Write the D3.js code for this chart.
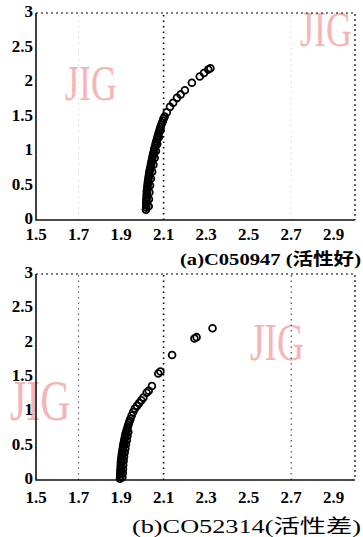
<!DOCTYPE html>
<html>
<head>
<meta charset="utf-8">
<script src="https://cdn.jsdelivr.net/npm/d3@7"></script>
<style>
  body { margin: 0; background: #fff; }
  svg { display: block; }
</style>
</head>
<body>
<script>
// tick values shared by both panels
var xTicks = [1.5, 1.7, 1.9, 2.1, 2.3, 2.5, 2.7, 2.9];
var yTicks = [0, 0.5, 1, 1.5, 2, 2.5, 3];

// (a) C050947 - good activity
var pointsA = [
  [2.017,0.15],[2.018,0.18],[2.019,0.21],[2.018,0.24],[2.02,0.27],[2.019,0.3],[2.021,0.33],
  [2.02,0.36],[2.022,0.39],[2.021,0.42],[2.023,0.45],[2.024,0.48],[2.025,0.51],[2.026,0.54],
  [2.027,0.57],[2.029,0.6],[2.03,0.63],[2.032,0.66],[2.033,0.69],[2.035,0.72],[2.037,0.75],
  [2.039,0.78],[2.041,0.81],[2.043,0.84],[2.045,0.87],[2.047,0.9],[2.049,0.93],[2.051,0.96],
  [2.054,0.99],[2.056,1.02],[2.058,1.05],[2.061,1.08],[2.063,1.11],[2.066,1.14],[2.069,1.17],
  [2.071,1.2],[2.074,1.23],[2.077,1.26],[2.08,1.29],[2.083,1.32],[2.086,1.35],[2.089,1.38],
  [2.093,1.41],[2.097,1.44],[2.1,1.47],
  [2.03,0.2],[2.031,0.3],[2.033,0.4],[2.036,0.5],[2.04,0.6],[2.046,0.7],[2.052,0.8],
  [2.058,0.9],[2.064,1.0],[2.07,1.1],[2.078,1.2],[2.086,1.3],
  [2.105,1.5],[2.115,1.56],[2.13,1.64],[2.145,1.7],[2.163,1.77],[2.18,1.82],[2.2,1.88],
  [2.233,1.99],[2.27,2.08],[2.29,2.13],[2.31,2.18],[2.32,2.2]
];

// (b) CO52314 - poor activity
var pointsB = [
  [1.895,0.02],[1.897,0.05],[1.896,0.08],[1.898,0.11],[1.897,0.14],[1.899,0.17],[1.898,0.2],
  [1.9,0.23],[1.899,0.26],[1.901,0.29],[1.902,0.32],[1.903,0.35],[1.904,0.38],[1.906,0.41],
  [1.907,0.44],[1.909,0.47],[1.91,0.5],[1.912,0.53],[1.914,0.56],[1.916,0.59],[1.918,0.62],
  [1.92,0.65],[1.922,0.68],[1.925,0.71],[1.928,0.74],[1.931,0.77],[1.934,0.8],[1.937,0.83],
  [1.94,0.86],[1.944,0.89],
  [1.906,0.04],[1.908,0.1],[1.909,0.16],[1.91,0.22],[1.912,0.28],[1.914,0.34],[1.917,0.4],
  [1.92,0.46],[1.923,0.52],[1.927,0.58],[1.93,0.64],[1.934,0.7],
  [1.95,0.94],[1.957,0.99],[1.965,1.04],[1.975,1.08],[1.985,1.12],[1.995,1.16],[2.005,1.2],
  [2.02,1.27],[2.03,1.3],[2.045,1.37],[2.075,1.55],[2.085,1.58],[2.14,1.82],[2.245,2.06],
  [2.255,2.08],[2.33,2.21]
];

var svg = d3.select("body").append("svg")
  .attr("width", 363)
  .attr("height", 537);

var x = d3.scaleLinear().domain([1.5, 3.0]).range([36, 355]);

function panel(data, opt) {
  var y = d3.scaleLinear().domain([0, 3]).range(opt.yRange);
  var g = svg.append("g");

  // watermarks
  opt.marks.forEach(function (m) {
    g.append("text")
      .attr("transform", "translate(" + m[0] + "," + m[1] + ") scale(0.72,1)")
      .attr("font-family", "Liberation Serif")
      .attr("font-size", m[2])
      .attr("fill", "#f6b4b4")
      .text("JIG");
  });

  // dotted verticals
  opt.grid.forEach(function (gl) {
    g.append("line")
      .attr("x1", x(gl[0])).attr("x2", x(gl[0]))
      .attr("y1", y(0)).attr("y2", y(3))
      .attr("stroke", "#000")
      .attr("stroke-width", gl[1])
      .attr("stroke-dasharray", "1.5,4")
      .attr("opacity", gl[2]);
  });

  // frame: top/right dotted, left/bottom solid
  g.append("path")
    .attr("d", "M" + x(1.5) + "," + y(3) + "H" + x(3) + "V" + y(0))
    .attr("fill", "none").attr("stroke", "#000")
    .attr("stroke-width", 1.2).attr("stroke-dasharray", "2,3");
  g.append("path")
    .attr("d", "M" + x(1.5) + "," + y(3) + "V" + y(0) + "H" + x(3))
    .attr("fill", "none").attr("stroke", "#111")
    .attr("stroke-width", 1.6);

  // tick labels
  g.selectAll(".xt").data(xTicks).enter().append("text")
    .attr("x", function (d) { return x(d); })
    .attr("y", opt.xLabelY)
    .attr("text-anchor", "middle")
    .attr("font-family", "Liberation Serif")
    .attr("font-weight", "bold")
    .attr("font-size", 17)
    .text(function (d) { return d3.format(".1f")(d); });

  g.selectAll(".yt").data(yTicks).enter().append("text")
    .attr("x", 33)
    .attr("y", function (d) { return y(d) + 4; })
    .attr("text-anchor", "end")
    .attr("font-family", "Liberation Serif")
    .attr("font-weight", "bold")
    .attr("font-size", 17)
    .text(function (d) { return d; });

  // points
  g.selectAll(".pt").data(data).enter().append("circle")
    .attr("cx", function (d) { return x(d[0]); })
    .attr("cy", function (d) { return y(d[1]); })
    .attr("r", 3.4)
    .attr("fill", "none")
    .attr("stroke", "#000")
    .attr("stroke-width", 1.8);

  // caption
  g.append("text")
    .attr("x", 361)
    .attr("y", opt.capY)
    .attr("text-anchor", "end")
    .attr("font-family", "Liberation Serif, Noto Sans CJK SC")
    .attr("font-weight", opt.capWeight)
    .attr("font-size", opt.capSize)
    .attr("textLength", opt.capLen)
    .attr("lengthAdjust", "spacingAndGlyphs")
    .text(opt.caption);
}

panel(pointsA, {
  yRange: [220, 13],
  xLabelY: 240,
  capY: 265,
  capSize: 17,
  capLen: 181,
  capWeight: "bold",
  caption: "(a)C050947 (活性好)",
  grid: [[1.7, 1, 0.15], [2.1, 1.6, 1], [2.7, 1, 0.15]],
  marks: [[65, 100, 50], [300, 46, 50]]
});

panel(pointsB, {
  yRange: [480, 274],
  xLabelY: 503,
  capY: 533,
  capSize: 19,
  capLen: 229,
  capWeight: "normal",
  caption: "(b)CO52314(活性差)",
  grid: [[1.7, 1.2, 0.6], [2.1, 1.6, 1], [2.7, 1.2, 0.7]],
  marks: [[250, 360, 52], [10, 420, 58]]
});
</script>
</body>
</html>
